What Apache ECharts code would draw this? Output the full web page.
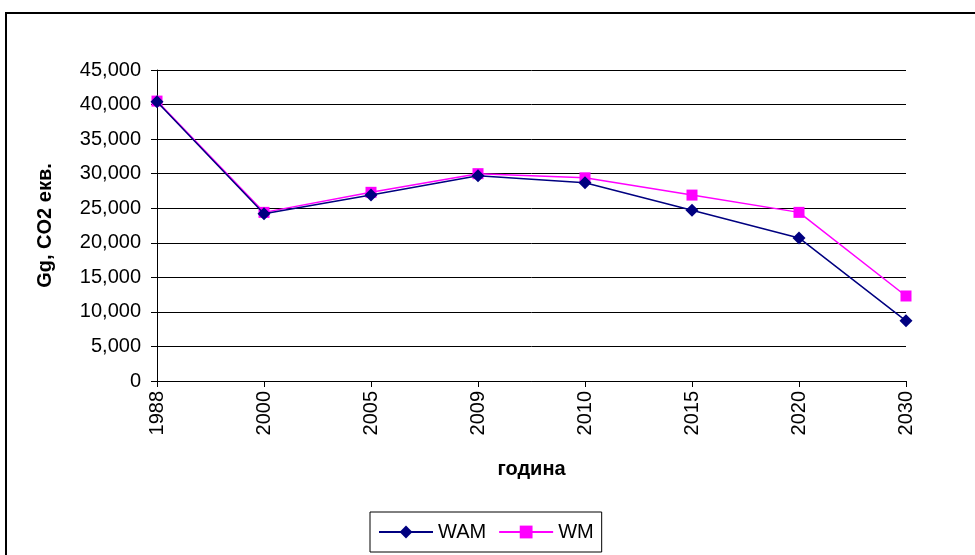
<!DOCTYPE html>
<html>
<head>
<meta charset="utf-8">
<script src="https://cdn.jsdelivr.net/npm/echarts@6/dist/echarts.min.js"></script>
<style>
  html, body { margin: 0; padding: 0; background: #fff; }
  #main { width: 975px; height: 555px; }
</style>
</head>
<body>
<div id="main"></div>
<script>
// categories (години)
var years = ['1988', '2000', '2005', '2009', '2010', '2015', '2020', '2030'];
// Gg CO2 екв.
var wamValues = [40400, 24200, 26900, 29700, 28700, 24700, 20700, 8700];
var wmValues = [40500, 24400, 27300, 30000, 29400, 26900, 24400, 12300];
var yTicks = { min: 0, max: 45000, interval: 5000 };

var chart = echarts.init(document.getElementById('main'));

var font = 'Arial, "Liberation Sans", sans-serif';

var option = {
  animation: false,
  backgroundColor: '#fff',
  graphic: [{
    type: 'rect',
    shape: { x: 6, y: 13, width: 990, height: 560 },
    style: { fill: 'none', stroke: '#000', lineWidth: 2 },
    silent: true
  }],
  grid: {
    left: 157,
    right: 69,
    top: 70,
    bottom: 174,
    containLabel: false
  },
  legend: {
    data: ['WAM', 'WM'],
    left: 370,
    top: 512,
    orient: 'horizontal',
    borderColor: '#000',
    borderWidth: 1,
    padding: [10, 8, 10, 8],
    itemGap: 12,
    itemWidth: 54,
    itemHeight: 16,
    textStyle: { fontFamily: font, fontSize: 20, color: '#000' }
  },
  xAxis: {
    type: 'category',
    data: years,
    boundaryGap: false,
    name: 'година',
    nameLocation: 'middle',
    nameGap: 78,
    nameTextStyle: { fontFamily: font, fontSize: 20, fontWeight: 'bold', color: '#000' },
    axisLine: { lineStyle: { color: '#000', width: 1 } },
    axisTick: { show: true, alignWithLabel: true, length: 6, lineStyle: { color: '#000' } },
    axisLabel: {
      rotate: 90,
      margin: 10,
      fontFamily: font,
      fontSize: 20,
      color: '#000'
    },
    splitLine: { show: false }
  },
  yAxis: {
    type: 'value',
    min: yTicks.min,
    max: yTicks.max,
    interval: yTicks.interval,
    name: 'Gg, CO2 екв.',
    nameLocation: 'middle',
    nameGap: 102,
    nameRotate: 90,
    nameTextStyle: { fontFamily: font, fontSize: 20, fontWeight: 'bold', color: '#000' },
    axisLine: { show: true, lineStyle: { color: '#000', width: 1 } },
    axisTick: { show: true, length: 6, lineStyle: { color: '#000' } },
    axisLabel: {
      margin: 16,
      fontFamily: font,
      fontSize: 20,
      color: '#000',
      formatter: function (v) { return v.toLocaleString('en-US'); }
    },
    splitLine: { show: true, lineStyle: { color: '#000', width: 1 } }
  },
  series: [
    {
      name: 'WAM',
      type: 'line',
      data: wamValues,
      symbol: 'diamond',
      symbolSize: 13,
      z: 3,
      lineStyle: { color: '#000080', width: 1.5 },
      itemStyle: { color: '#000080' }
    },
    {
      name: 'WM',
      type: 'line',
      data: wmValues,
      symbol: 'rect',
      symbolSize: 11,
      z: 2,
      lineStyle: { color: '#ff00ff', width: 1.5 },
      itemStyle: { color: '#ff00ff' }
    }
  ]
};

chart.setOption(option);
</script>
</body>
</html>
